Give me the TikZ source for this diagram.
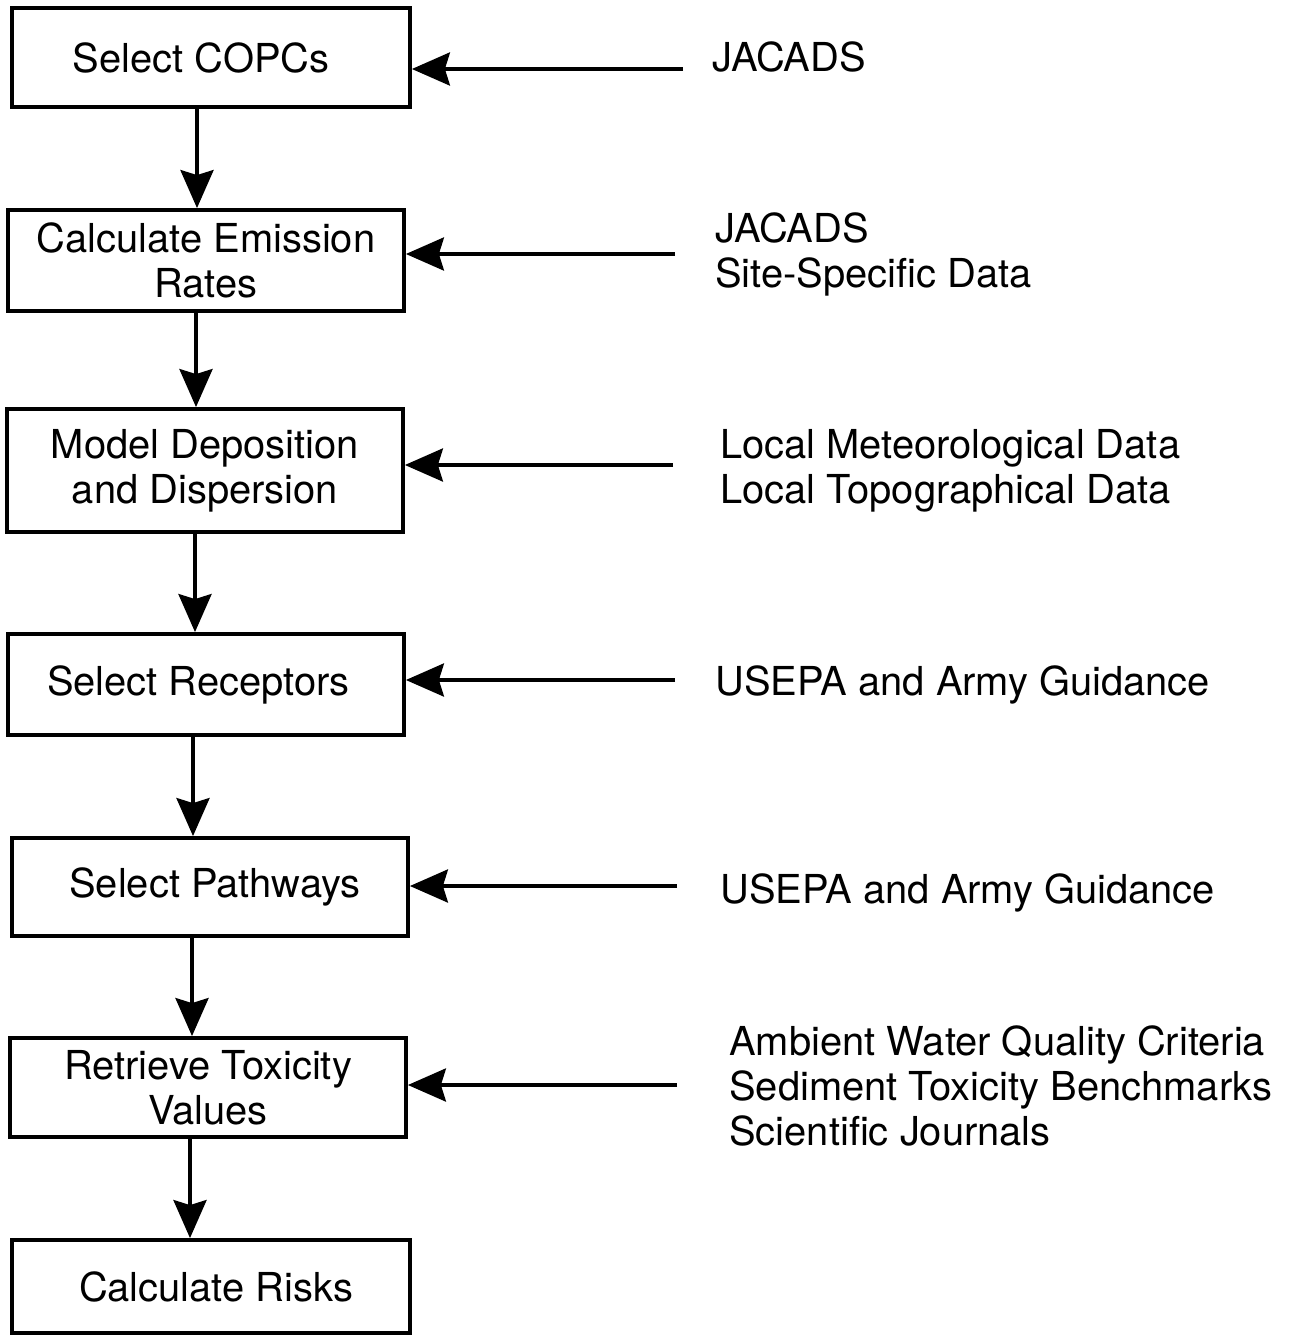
\documentclass[tikz,border=0pt]{standalone}
\usepackage{fontspec}
\setmainfont{TeX Gyre Heros}
\usetikzlibrary{arrows.meta}
\begin{document}
\begin{tikzpicture}[x=0.02cm,y=-0.02cm,
  every node/.style={font=\fontsize{22.7pt}{25.6pt}\selectfont},
  stepbox/.style={draw, line width=2.2pt, align=center, inner sep=0pt, minimum width=7.92cm},
  src/.style={anchor=base west, align=left, inner sep=0pt},
  flow/.style={line width=2.2pt, -{Stealth[length=0.76cm,width=0.66cm,inset=0.1cm]}}]
\useasboundingbox (0,0) rectangle (1295,1336);

% process steps
\node[stepbox, minimum width=7.96cm, minimum height=1.98cm] (b1) at (211,57.5) {Select COPCs\hspace*{0.4cm}};
\node[stepbox, minimum height=2.02cm] (b2) at (206,260.5) {Calculate Emission\\Rates};
\node[stepbox, minimum height=2.46cm] (b3) at (205,470.5) {Model Deposition\\and Dispersion};
\node[stepbox, minimum height=2.02cm] (b4) at (206,684.5) {Select Receptors\hspace*{0.3cm}};
\node[stepbox, minimum height=1.96cm] (b5) at (210,887) {\hspace*{0.2cm}Select Pathways};
\node[stepbox, minimum height=1.98cm] (b6) at (208,1087.5) {Retrieve Toxicity\\Values};
\node[stepbox, minimum width=7.96cm, minimum height=1.86cm] (b7) at (211,1286.5) {\hspace*{0.2cm}Calculate Risks};

% data sources (base anchor sits on the last line)
\node[src] (t1) at (712,71) {JACADS};
\node[src] (t2) at (715,287) {JACADS\\Site-Specific Data};
\node[src] (t3) at (720,503) {Local Meteorological Data\\Local Topographical Data};
\node[src] (t4) at (715,695) {USEPA and Army Guidance};
\node[src] (t5) at (720,903) {USEPA and Army Guidance};
\node[src] (t6) at (729,1145) {Ambient Water Quality Criteria\\Sediment Toxicity Benchmarks\\Scientific Journals};

% flow between steps
\draw[flow] ([xshift=-0.28cm]b1.south) -- ([xshift=-0.28cm]b1.south |- b2.north);
\draw[flow] ([xshift=-0.2cm]b2.south) -- ([xshift=-0.2cm]b2.south |- b3.north);
\draw[flow] ([xshift=-0.2cm]b3.south) -- ([xshift=-0.2cm]b3.south |- b4.north);
\draw[flow] ([xshift=-0.26cm]b4.south) -- ([xshift=-0.26cm]b4.south |- b5.north);
\draw[flow] ([xshift=-0.36cm]b5.south) -- ([xshift=-0.36cm]b5.south |- b6.north);
\draw[flow] ([xshift=-0.36cm]b6.south) -- ([xshift=-0.36cm]b6.south |- b7.north);

% inputs from data sources
\coordinate (a1) at (683,69);
\coordinate (a2) at (675,254);
\coordinate (a3) at (673,465);
\coordinate (a4) at (675,680);
\coordinate (a5) at (677,886);
\coordinate (a6) at (677,1085);
\draw[flow] (a1) -- (a1 -| b1.east);
\draw[flow] (a2) -- (a2 -| b2.east);
\draw[flow] (a3) -- (a3 -| b3.east);
\draw[flow] (a4) -- (a4 -| b4.east);
\draw[flow] (a5) -- (a5 -| b5.east);
\draw[flow] (a6) -- (a6 -| b6.east);
\end{tikzpicture}
\end{document}
